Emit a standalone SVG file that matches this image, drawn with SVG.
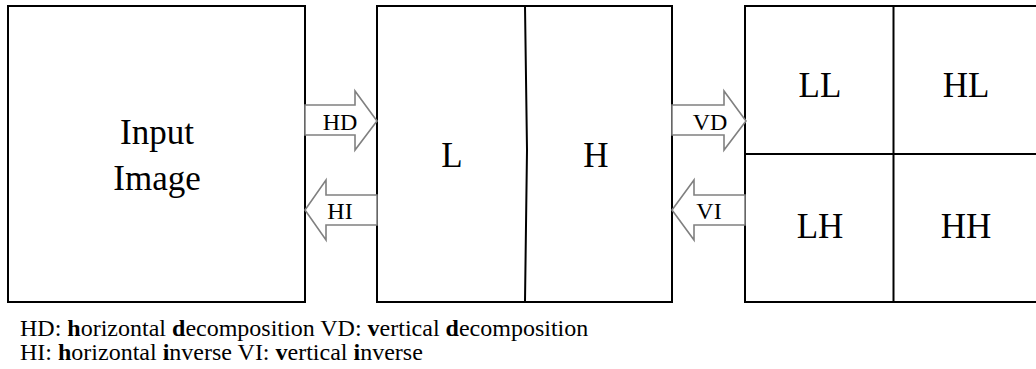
<svg xmlns="http://www.w3.org/2000/svg" width="1036" height="369" viewBox="0 0 1036 369">
<style>
.box{fill:#fff;stroke:#000;stroke-width:2}
.div{fill:none;stroke:#000;stroke-width:2}
.arr{fill:#fff;stroke:#808080;stroke-width:1.6}
.big{font-family:"Liberation Serif","Times New Roman",serif;font-size:35px;fill:#000;text-anchor:middle}
.lab{font-family:"Liberation Serif","Times New Roman",serif;font-size:24px;fill:#000;text-anchor:middle}
.note{font-family:"Liberation Serif","Times New Roman",serif;font-size:24px;fill:#000}
</style>
<rect width="1036" height="369" fill="#fff"/>
<g id="input">
<rect class="box" x="8" y="6" width="297" height="296"/>
<text class="big" x="157" y="144">Input</text>
<text class="big" x="157" y="190">Image</text>
</g>
<g id="lh-split">
<rect class="box" x="377" y="6" width="295" height="296"/>
<path class="div" d="M525,6 L527,150 L525,302"/>
<text class="big" x="452" y="167">L</text>
<text class="big" x="596" y="167">H</text>
</g>
<g id="subbands">
<rect class="box" x="745" y="6" width="300" height="296"/>
<line class="div" x1="893.5" y1="6" x2="893.5" y2="302"/>
<line class="div" x1="745" y1="154" x2="1045" y2="154"/>
<text class="big" x="820" y="97">LL</text>
<text class="big" x="966" y="97">HL</text>
<text class="big" x="820" y="238">LH</text>
<text class="big" x="966" y="238">HH</text>
</g>
<g id="connectors">
<g id="hd">
<polygon class="arr" points="305,105 355,105 355,91 377,121 355,150 355,135 305,135"/>
<text class="lab" x="340" y="130">HD</text>
</g>
<g id="hi">
<polygon class="arr" points="377,195 326,195 326,180 305,210 326,240 326,225 377,225"/>
<text class="lab" x="340" y="219">HI</text>
</g>
<g id="vd">
<polygon class="arr" points="672,105 724,105 724,91 746,121 724,150 724,135 672,135"/>
<text class="lab" x="710" y="130">VD</text>
</g>
<g id="vi">
<polygon class="arr" points="745,195 694,195 694,180 672,210 694,240 694,225 745,225"/>
<text class="lab" x="709" y="219">VI</text>
</g>
</g>
<g id="legend">
<text class="note" x="20" y="336">HD: <tspan font-weight="bold">h</tspan>orizontal <tspan font-weight="bold">d</tspan>ecomposition VD: <tspan font-weight="bold">v</tspan>ertical <tspan font-weight="bold">d</tspan>ecomposition</text>
<text class="note" x="20" y="360">HI: <tspan font-weight="bold">h</tspan>orizontal <tspan font-weight="bold">i</tspan>nverse VI: <tspan font-weight="bold">v</tspan>ertical <tspan font-weight="bold">i</tspan>nverse</text>
</g>
</svg>
